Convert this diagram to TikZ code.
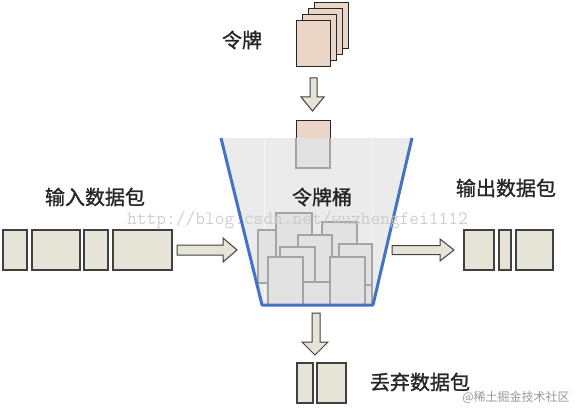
\documentclass[tikz,border=0pt]{standalone}
\usepackage{fontspec}
\newfontfamily\cjk{Noto Sans CJK SC}[FakeBold=1.3]
\newfontfamily\cjkw{Noto Sans CJK SC}
\definecolor{pkt}{HTML}{E6E4D6}
\definecolor{pktline}{HTML}{404040}
\definecolor{tok}{HTML}{EBD5C7}
\definecolor{bucketfill}{HTML}{EBEBEB}
\definecolor{bucketline}{HTML}{4472C4}
\definecolor{cardfill}{HTML}{E2E2E2}
\definecolor{cardline}{HTML}{A4A4A4}
\tikzset{
  pktbox/.style={draw=pktline, fill=pkt, line width=1.2pt, inner sep=0pt, minimum height=40pt},
  tokcard/.style={draw=black!85, fill=tok, line width=1pt},
  bcard/.style={draw=cardline, fill=cardfill, line width=1.2pt},
  blockarrow/.style={draw=pktline, fill=pkt, line width=1pt, line join=miter},
  lbl/.style={font=\cjk\fontsize{20}{22}\selectfont, text=black!85, inner sep=0pt},
}
\begin{document}
\begin{tikzpicture}[x=1pt,y=-1pt]
\useasboundingbox (0,0) rectangle (583,414);
\fill[white] (0,0) rectangle (583,414);

% token stack
\draw[tokcard] (314,3) rectangle (348,49);
\draw[tokcard] (308,9) rectangle (342,55);
\draw[tokcard] (302,15) rectangle (336,61);
\draw[tokcard] (296,21) rectangle (330,67);
\node[lbl] (toklabel) at (242,40) {令牌};

% down arrow (tokens into bucket)
\draw[blockarrow] (310,78) -- (317,78) -- (317,97) -- (324,97) -- (312.5,111) -- (301,97) -- (310,97) -- cycle;

% falling token
\draw[tokcard] (296,121) rectangle (330,168);

% bucket
\coordinate (btl) at (221,138);
\coordinate (btr) at (412,138);
\coordinate (bbr) at (373,305);
\coordinate (bbl) at (262,305);
\fill[bucketfill] (btl) -- (btr) -- (bbr) -- (bbl) -- cycle;
\draw[white!97!black, line width=0.8pt] (264,139) -- (264,304) (372,139) -- (372,304);
\draw[cardline, fill=cardfill, line width=1.1pt] (296,138.5) -- (296,168) -- (330,168) -- (330,138.5);

\begin{scope}
\clip (btl) -- (btr) -- (bbr) -- (bbl) -- cycle;
\draw[bcard] (258,230) rectangle (293,283);
\draw[bcard] (276,213) rectangle (312,265);
\draw[bcard] (322,222) rectangle (357,263);
\draw[bcard] (298,235) rectangle (332,295);
\draw[bcard] (280,247) rectangle (315,293);
\draw[bcard] (339,244) rectangle (372,290);
\draw[bcard] (345,285) rectangle (372,306);
\draw[bcard] (303,282) rectangle (332,306);
\draw[bcard] (268,257) rectangle (303,306);
\draw[bcard] (330,257) rectangle (365,306);
\end{scope}

\draw[bucketline, line width=3pt, line join=round] (btl) -- (bbl) -- (bbr) -- (btr);
\node[lbl] (bucketlabel) at (322,197) {令牌桶};

% input packets
\node[lbl] (inlabel) at (95,197) {输入数据包};
\node[pktbox, minimum width=24pt] (in1) at (15,250) {};
\node[pktbox, minimum width=48pt] (in2) at (56,250) {};
\node[pktbox, minimum width=24pt] (in3) at (96,250) {};
\node[pktbox, minimum width=59pt] (in4) at (142.5,250) {};
\draw[blockarrow] (177,245) -- (223,245) -- (223,238) -- (237,250) -- (223,262) -- (223,255) -- (177,255) -- cycle;

% output packets
\node[lbl] (outlabel) at (506,188) {输出数据包};
\draw[blockarrow] (392,245.5) -- (440,245.5) -- (440,239) -- (454,250) -- (440,261) -- (440,254.5) -- (392,254.5) -- cycle;
\node[pktbox, minimum width=30pt] (out1) at (479,250) {};
\node[pktbox, minimum width=12pt] (out2) at (505,250) {};
\node[pktbox, minimum width=37pt] (out3) at (534.5,250) {};

% dropped packets
\draw[blockarrow] (312,313) -- (320,313) -- (320,342) -- (328,342) -- (315,355) -- (302,342) -- (312,342) -- cycle;
\node[pktbox, minimum width=16pt] (drop1) at (305,383) {};
\node[pktbox, minimum width=29pt] (drop2) at (331.5,383) {};
\node[lbl] (droplabel) at (420,382) {丢弃数据包};

% watermarks
\node[anchor=base west, inner sep=0pt, text=black!22, opacity=0.85,
      font=\ttfamily\fontsize{18.9}{20}\selectfont] (wm1) at (127,224) {http://blog.csdn.net/wuzhengfei1112};
\node[inner sep=0pt, text=black!40, font=\cjkw\fontsize{12}{14}\selectfont] (wm2) at (516,397) {@稀土掘金技术社区};
\end{tikzpicture}
\end{document}
